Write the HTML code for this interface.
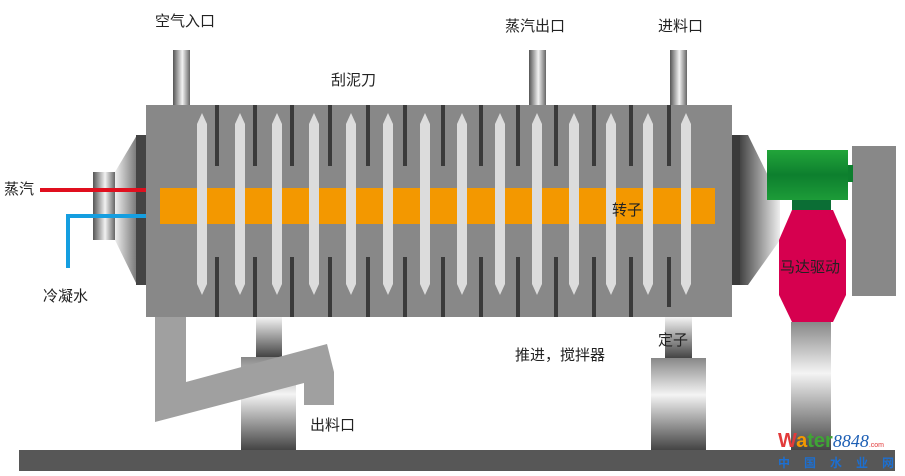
<!DOCTYPE html>
<html><head><meta charset="utf-8"><style>
html,body{margin:0;padding:0;background:#fff;}
svg{display:block}
text{font-family:"Liberation Sans","Noto Sans CJK SC",sans-serif;font-size:15px;fill:#222}
</style></head><body>
<svg width="905" height="476" viewBox="0 0 905 476" xmlns="http://www.w3.org/2000/svg">
<defs>
<linearGradient id="pipe" x1="0" x2="1" y1="0" y2="0">
<stop offset="0" stop-color="#555"/><stop offset="0.55" stop-color="#f2f2f2"/><stop offset="1" stop-color="#666"/></linearGradient>
<linearGradient id="vert" x1="0" x2="0" y1="0" y2="1">
<stop offset="0" stop-color="#888"/><stop offset="0.4" stop-color="#f4f4f4"/><stop offset="1" stop-color="#444"/></linearGradient>
<linearGradient id="vert2" x1="0" x2="0" y1="0" y2="1">
<stop offset="0" stop-color="#f4f4f4"/><stop offset="1" stop-color="#444"/></linearGradient>
<linearGradient id="cone" x1="0" x2="1" y1="0" y2="0">
<stop offset="0" stop-color="#eee"/><stop offset="1" stop-color="#444"/></linearGradient>
<linearGradient id="coneR" x1="0" x2="1" y1="0" y2="0">
<stop offset="0" stop-color="#444"/><stop offset="1" stop-color="#eee"/></linearGradient>
<linearGradient id="green" x1="0" x2="0" y1="0" y2="1">
<stop offset="0" stop-color="#22a53a"/><stop offset="0.5" stop-color="#0d7f2e"/><stop offset="1" stop-color="#1d9c38"/></linearGradient>
</defs>

<!-- top pipes -->
<rect x="173" y="50" width="17" height="56" fill="url(#pipe)"/>
<rect x="529" y="50" width="17" height="56" fill="url(#pipe)"/>
<rect x="670" y="50" width="17" height="56" fill="url(#pipe)"/>

<!-- left flange -->
<rect x="93" y="172" width="22" height="68" fill="url(#pipe)"/>
<polygon points="115,172 137,135 146,135 146,285 137,285 115,240" fill="url(#cone)"/>
<rect x="136" y="135" width="10" height="150" fill="#444"/>

<!-- right flange -->
<rect x="731" y="135" width="9" height="150" fill="#3a3a3a"/>
<polygon points="740,135 748,135 780,200 780,240 748,285 740,285" fill="url(#coneR)"/>

<!-- body -->
<rect x="146" y="105" width="586" height="212" fill="#888"/>
<rect x="160" y="188" width="555" height="36" fill="#f39800"/>

<g fill="#3a3a3a" id="rods">
<rect x="215" y="105" width="4" height="61"/><rect x="215" y="257" width="4" height="60"/>
<rect x="253" y="105" width="4" height="61"/><rect x="253" y="257" width="4" height="60"/>
<rect x="290" y="105" width="4" height="61"/><rect x="290" y="257" width="4" height="60"/>
<rect x="328" y="105" width="4" height="61"/><rect x="328" y="257" width="4" height="60"/>
<rect x="366" y="105" width="4" height="61"/><rect x="366" y="257" width="4" height="60"/>
<rect x="403" y="105" width="4" height="61"/><rect x="403" y="257" width="4" height="60"/>
<rect x="441" y="105" width="4" height="61"/><rect x="441" y="257" width="4" height="60"/>
<rect x="479" y="105" width="4" height="61"/><rect x="479" y="257" width="4" height="60"/>
<rect x="516" y="105" width="4" height="61"/><rect x="516" y="257" width="4" height="60"/>
<rect x="554" y="105" width="4" height="61"/><rect x="554" y="257" width="4" height="60"/>
<rect x="592" y="105" width="4" height="61"/><rect x="592" y="257" width="4" height="60"/>
<rect x="629" y="105" width="4" height="61"/><rect x="629" y="257" width="4" height="60"/>
<rect x="667" y="105" width="4" height="61"/><rect x="667" y="257" width="4" height="50"/>
</g>

<g fill="#dcdcdc">
<polygon points="202,113 207,124 207,284 202,295 197,284 197,124"/>
<polygon points="240,113 245,124 245,284 240,295 235,284 235,124"/>
<polygon points="277,113 282,124 282,284 277,295 272,284 272,124"/>
<polygon points="314,113 319,124 319,284 314,295 309,284 309,124"/>
<polygon points="351,113 356,124 356,284 351,295 346,284 346,124"/>
<polygon points="388,113 393,124 393,284 388,295 383,284 383,124"/>
<polygon points="425,113 430,124 430,284 425,295 420,284 420,124"/>
<polygon points="462,113 467,124 467,284 462,295 457,284 457,124"/>
<polygon points="500,113 505,124 505,284 500,295 495,284 495,124"/>
<polygon points="537,113 542,124 542,284 537,295 532,284 532,124"/>
<polygon points="574,113 579,124 579,284 574,295 569,284 569,124"/>
<polygon points="611,113 616,124 616,284 611,295 606,284 606,124"/>
<polygon points="648,113 653,124 653,284 648,295 643,284 643,124"/>
<polygon points="686,113 691,124 691,284 686,295 681,284 681,124"/>
</g>

<!-- steam / condensate lines -->
<line x1="40" y1="190" x2="146" y2="190" stroke="#e00f1e" stroke-width="4"/>
<polyline points="68,268 68,216 146,216" fill="none" stroke="#159ee0" stroke-width="4"/>

<!-- supports -->
<rect x="256" y="317" width="26" height="40" fill="url(#vert2)"/>
<rect x="241" y="357" width="55" height="93" fill="url(#vert)"/>
<rect x="665" y="317" width="27" height="41" fill="url(#vert2)"/>
<rect x="651" y="358" width="55" height="92" fill="url(#vert)"/>

<!-- discharge chute -->
<polygon points="155,317 186,317 186,382 327,344 334,372 334,405 304,405 304,383 155,422" fill="#a0a0a0"/>

<!-- motor -->
<rect x="852" y="146" width="44" height="150" fill="#888"/>
<rect x="791" y="322" width="40" height="128" fill="url(#vert)"/>
<rect x="767" y="150" width="81" height="50" fill="url(#green)"/>
<rect x="848" y="165" width="5" height="17" fill="#0d7f2e"/>
<rect x="792" y="200" width="39" height="11" fill="#0b6e35"/>
<polygon points="792,210 833,210 846,240 846,295 833,322 792,322 779,295 779,240" fill="#d6004f"/>

<!-- base -->
<rect x="19" y="450" width="876" height="21" fill="#575757"/>

<!-- labels -->
<text x="155" y="26">空气入口</text>
<text x="505" y="31">蒸汽出口</text>
<text x="658" y="31">进料口</text>
<text x="331" y="85">刮泥刀</text>
<text x="4" y="194">蒸汽</text>
<text x="43" y="301">冷凝水</text>
<text x="612" y="215">转子</text>
<text x="780" y="272">马达驱动</text>
<text x="658" y="345">定子</text>
<text x="515" y="360">推进，搅拌器</text>
<text x="310" y="430">出料口</text>

<!-- watermark -->
<text x="778" y="447" style="font-size:20px;font-weight:bold;fill:#e23a3a">W<tspan style="fill:#f39800">a</tspan><tspan style="fill:#3fa535">ter</tspan><tspan style="font-style:italic;font-weight:normal;fill:#1d5fb5;font-family:'Liberation Serif',serif;font-size:18px">8848</tspan><tspan style="font-size:7px;fill:#e23a3a;font-weight:normal">.com</tspan></text>
<text x="778" y="467" style="font-size:12px;font-weight:bold;fill:#1d6fd0;letter-spacing:14px">中国水业网</text>
</svg>
</body></html>
